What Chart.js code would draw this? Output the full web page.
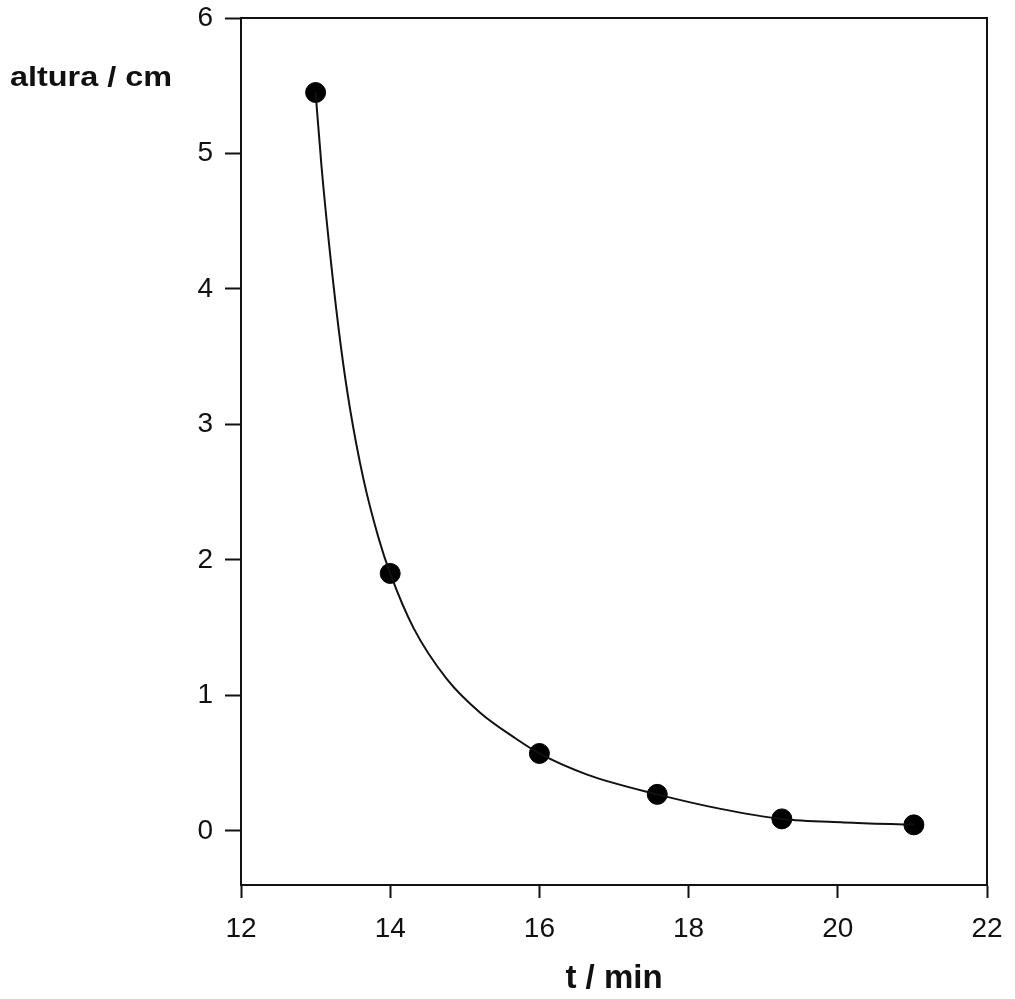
<!DOCTYPE html>
<html>
<head>
<meta charset="utf-8">
<script src="https://cdn.jsdelivr.net/npm/chart.js@4.4.1/dist/chart.umd.min.js"></script>
<style>
  html, body { margin: 0; padding: 0; background: #fff; }
  #wrap { width: 1015px; height: 999px; }
</style>
</head>
<body>
<div id="wrap"><canvas id="chart" width="1015" height="999"></canvas></div>
<script>
// measured points (t in min, height in cm)
const tPoints = [13, 14, 16, 17.58, 19.25, 21.02];
const hPoints = [5.45, 1.9, 0.571, 0.269, 0.088, 0.044];

// fitted curve
const tCurve = [13.0, 13.08, 13.2, 13.34, 13.46, 13.64, 13.85, 14.0, 14.31, 14.76, 15.21, 15.66, 16.0, 16.64, 17.58, 18.43, 19.25, 20.08, 21.02];
const hCurve = [5.45, 4.9, 4.23, 3.57, 3.12, 2.6, 2.15, 1.9, 1.5, 1.12, 0.87, 0.69, 0.571, 0.415, 0.269, 0.162, 0.088, 0.062, 0.044];

const yTicks = [0, 1, 2, 3, 4, 5, 6];
const xTicks = [12, 14, 16, 18, 20, 22];

const ink = '#111';
const fontFamily = '"Liberation Sans", Arial, sans-serif';

// frame on top/right + the horizontal y label
const framePlugin = {
    id: 'frame',
    beforeDatasetsDraw(chart) {
        const { ctx, chartArea: a } = chart;
        ctx.save();
        ctx.strokeStyle = ink;
        ctx.lineWidth = 2;
        ctx.beginPath();
        ctx.moveTo(a.left, a.top);
        ctx.lineTo(a.right, a.top);
        ctx.lineTo(a.right, a.bottom);
        ctx.stroke();
        ctx.restore();
    },
    afterDraw(chart) {
        const ctx = chart.ctx;
        ctx.save();
        ctx.fillStyle = ink;
        ctx.font = 'bold 27px ' + fontFamily;
        ctx.textBaseline = 'alphabetic';
        ctx.translate(10, 86);
        ctx.scale(1.2, 1);
        ctx.fillText('altura / cm', 0, 0);
        ctx.restore();
    }
};

new Chart(document.getElementById('chart'), {
    type: 'scatter',
    data: {
        datasets: [
            {
                type: 'line',
                data: tCurve.map((t, i) => ({ x: t, y: hCurve[i] })),
                borderColor: ink,
                borderWidth: 2,
                pointRadius: 0,
                fill: false,
                cubicInterpolationMode: 'monotone'
            },
            {
                data: tPoints.map((t, i) => ({ x: t, y: hPoints[i] })),
                backgroundColor: '#000',
                borderColor: '#000',
                pointRadius: 10,
                pointHoverRadius: 10
            }
        ]
    },
    options: {
        responsive: false,
        animation: false,
        layout: { padding: { top: 18, right: 28, left: 0, bottom: 0 } },
        plugins: { legend: { display: false }, tooltip: { enabled: false } },
        scales: {
            x: {
                type: 'linear',
                min: 12,
                max: 22,
                afterFit(scale) {
                    scale.height = 114;
                    scale.paddingLeft = 0;
                    scale.paddingRight = 0;
                },
                afterBuildTicks(scale) { scale.ticks = xTicks.map(v => ({ value: v })); },
                grid: { drawOnChartArea: false, drawTicks: true, tickLength: 13, tickWidth: 2, tickColor: ink },
                border: { display: true, color: ink, width: 2 },
                ticks: {
                    color: ink,
                    padding: 14,
                    maxRotation: 0,
                    font: { family: fontFamily, size: 28 }
                },
                title: {
                    display: true,
                    text: 't / min',
                    color: ink,
                    padding: { top: 0, bottom: 0 },
                    font: { family: fontFamily, size: 33, weight: 'bold' }
                }
            },
            y: {
                min: -0.4,
                max: 6,
                afterFit(scale) {
                    scale.width = 241;
                    scale.paddingTop = 0;
                    scale.paddingBottom = 0;
                },
                afterBuildTicks(scale) { scale.ticks = yTicks.map(v => ({ value: v })); },
                grid: { drawOnChartArea: false, drawTicks: true, tickLength: 16, tickWidth: 2, tickColor: ink },
                border: { display: true, color: ink, width: 2 },
                ticks: {
                    color: ink,
                    padding: 12,
                    font: { family: fontFamily, size: 28 }
                }
            }
        }
    },
    plugins: [framePlugin]
});
</script>
</body>
</html>
